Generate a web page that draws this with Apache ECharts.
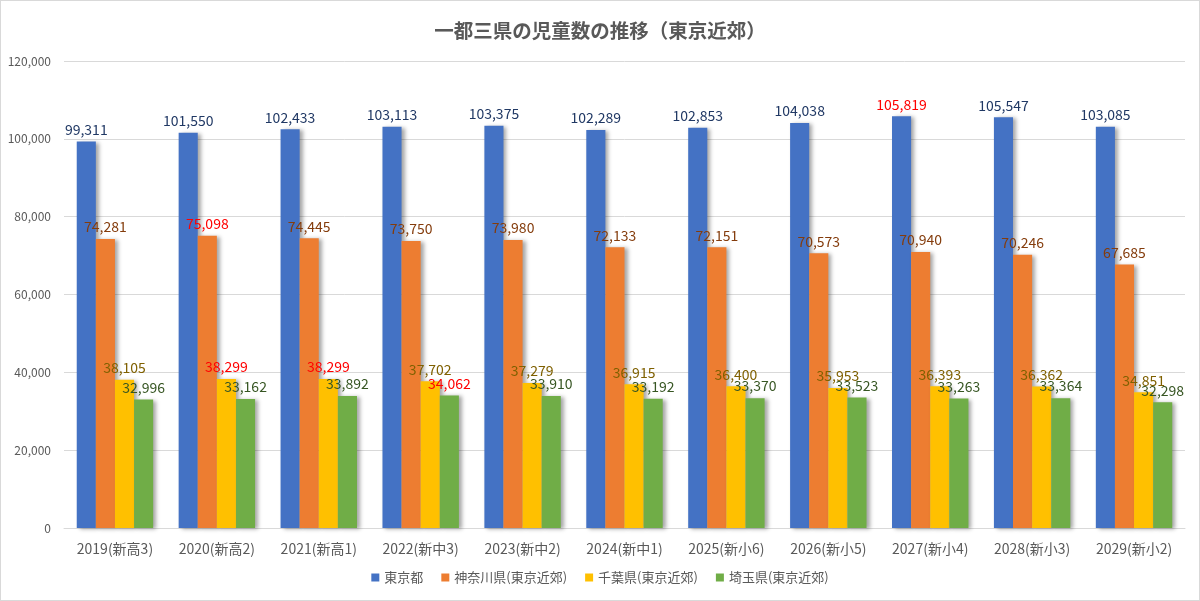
<!DOCTYPE html>
<html><head><meta charset="utf-8">
<script src="https://cdn.jsdelivr.net/npm/echarts@6/dist/echarts.min.js"></script>
<style>html,body{margin:0;padding:0;background:#fff}#c{width:1198px;height:599px;border:1px solid #d9d9d9}</style>
</head><body><div id="c"></div>
<script>
const categories = ['2019(新高3)','2020(新高2)','2021(新高1)','2022(新中3)','2023(新中2)','2024(新中1)','2025(新小6)','2026(新小5)','2027(新小4)','2028(新小3)','2029(新小2)'];
const tokyo    = [99311,101550,102433,103113,103375,102289,102853,104038,105819,105547,103085];
const kanagawa = [74281,75098,74445,73750,73980,72133,72151,70573,70940,70246,67685];
const chiba    = [38105,38299,38299,37702,37279,36915,36400,35953,36393,36362,34851];
const saitama  = [32996,33162,33892,34062,33910,33192,33370,33523,33263,33364,32298];
const seriesNames = ['東京都','神奈川県(東京近郊)','千葉県(東京近郊)','埼玉県(東京近郊)'];
const redIdx = [[8],[1],[1,2],[3]];
const barColors = ['#4472C4','#ED7D31','#FFC000','#70AD47'];
const labelColors = ['#203864','#843C0C','#7F6000','#375623'];
const allData = [tokyo,kanagawa,chiba,saitama];
const FONT = '"Noto Sans CJK JP", "Noto Sans", sans-serif';

const chart = echarts.init(document.getElementById('c'));
chart.setOption({
  animation:false,
  textStyle:{fontFamily:FONT},
  title:{text:'一都三県の児童数の推移（東京近郊）',left:'center',top:15,
    textStyle:{fontSize:19.5,fontWeight:'bold',color:'#595959',fontFamily:FONT}},
  grid:{left:63,right:14,top:60,bottom:72,containLabel:false},
  legend:{bottom:11,left:'center',itemWidth:8,itemHeight:8,itemGap:18,icon:'rect',
    textStyle:{fontSize:13,color:'#595959',fontFamily:FONT},data:seriesNames},
  xAxis:{type:'category',data:categories,
    axisLine:{lineStyle:{color:'#d9d9d9'}},axisTick:{show:false},
    axisLabel:{color:'#595959',fontSize:14,margin:14,fontFamily:FONT}},
  yAxis:{type:'value',min:0,max:120000,interval:20000,
    axisLine:{show:false},axisTick:{show:false},
    splitLine:{lineStyle:{color:'#d9d9d9'}},
    axisLabel:{color:'#595959',fontSize:12,margin:13,fontFamily:FONT,
      formatter:v=>v.toLocaleString('en-US')}},
  series: allData.map((arr,si)=>({
    name:seriesNames[si],type:'bar',barGap:'0%',barCategoryGap:'25%',
    itemStyle:{color:barColors[si],shadowColor:'rgba(0,0,0,0.35)',shadowBlur:4,shadowOffsetX:3,shadowOffsetY:1},
    label:{show:true,position:'top',distance:5,fontSize:14,fontFamily:FONT,
      formatter:p=>p.value.toLocaleString('en-US')},
    data:arr.map((v,i)=>({value:v,label:{color:redIdx[si].includes(i)?'#FF0000':labelColors[si]}}))
  }))
});
</script></body></html>
